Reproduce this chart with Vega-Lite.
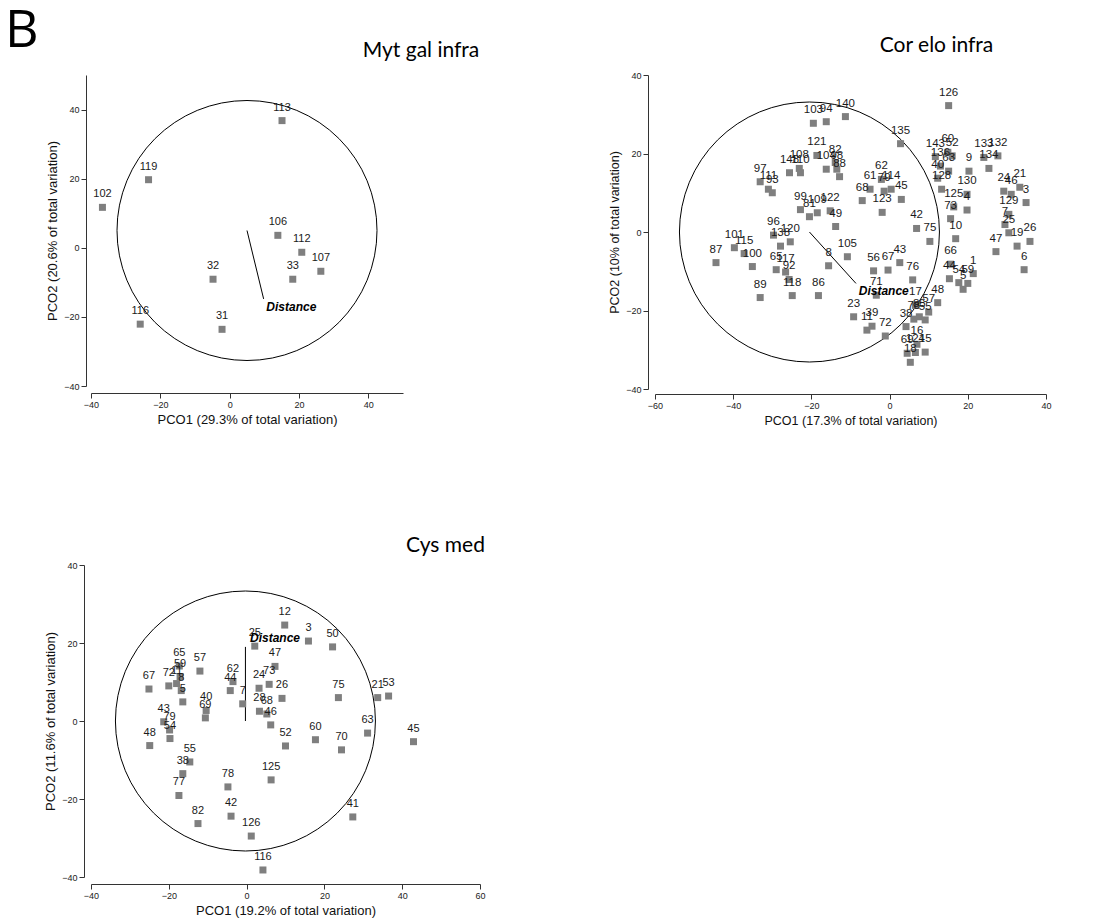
{
  "$schema": "https://vega.github.io/schema/vega-lite/v6.json",
  "background": "white",
  "padding": {"left": 5, "top": 5, "right": 5, "bottom": 5},
  "title": {"text": "B", "anchor": "start", "frame": "group", "font": "Open Sans", "fontSize": 52, "fontWeight": "normal", "color": "black", "dx": -86, "offset": -23},
  "columns": 2,
  "spacing": {"row": 176, "column": 173},
  "bounds": "flush",
  "align": "all",
  "datasets": {
    "myt_pts": [
      {"id": "113", "x": 15.1, "y": 36.8},
      {"id": "119", "x": -23.4, "y": 19.7},
      {"id": "102", "x": -36.7, "y": 11.7},
      {"id": "106", "x": 13.9, "y": 3.6},
      {"id": "112", "x": 20.8, "y": -1.3},
      {"id": "107", "x": 26.3, "y": -6.8},
      {"id": "33", "x": 18.2, "y": -9.1},
      {"id": "32", "x": -4.8, "y": -9.1},
      {"id": "31", "x": -2.2, "y": -23.6},
      {"id": "116", "x": -25.8, "y": -22.1}
    ],
    "myt_circle": [{"x": 5, "y": 5}],
    "myt_vec": [{"x": 5, "y": 5, "x2": 9.8, "y2": -14.8}],
    "myt_lab": [{"x": 17.8, "y": -17.1, "label": "Distance"}],
    "cor_pts": [
      {"id": "140", "x": -11.3, "y": 29.4},
      {"id": "103", "x": -19.5, "y": 27.7},
      {"id": "94", "x": -16.2, "y": 28.1},
      {"id": "121", "x": -18.6, "y": 19.5},
      {"id": "82", "x": -13.9, "y": 17.7},
      {"id": "104", "x": -16.2, "y": 16.0},
      {"id": "98", "x": -13.5, "y": 16.0},
      {"id": "88", "x": -12.8, "y": 14.1},
      {"id": "148", "x": -25.6, "y": 15.1},
      {"id": "108", "x": -23.1, "y": 16.2},
      {"id": "110", "x": -22.8, "y": 15.1},
      {"id": "97", "x": -33.1, "y": 12.8},
      {"id": "111", "x": -31.0, "y": 10.9},
      {"id": "93", "x": -30.0, "y": 10.0},
      {"id": "99", "x": -22.8, "y": 5.7},
      {"id": "81", "x": -20.5, "y": 3.9},
      {"id": "109", "x": -18.5, "y": 4.9},
      {"id": "122", "x": -15.2, "y": 5.4},
      {"id": "49", "x": -13.8, "y": 1.4},
      {"id": "96", "x": -29.7, "y": -0.8},
      {"id": "138", "x": -27.9, "y": -3.6},
      {"id": "120", "x": -25.4, "y": -2.5},
      {"id": "101", "x": -39.7, "y": -4.0},
      {"id": "115", "x": -37.2, "y": -5.5},
      {"id": "87", "x": -44.4, "y": -7.8},
      {"id": "100", "x": -35.1, "y": -8.8},
      {"id": "65", "x": -29.0, "y": -9.6},
      {"id": "117", "x": -26.6, "y": -10.2},
      {"id": "92", "x": -25.7, "y": -12.1},
      {"id": "118", "x": -24.9, "y": -16.2},
      {"id": "89", "x": -33.1, "y": -16.7},
      {"id": "86", "x": -18.2, "y": -16.2},
      {"id": "8", "x": -15.6, "y": -8.6},
      {"id": "105", "x": -10.8, "y": -6.3},
      {"id": "23", "x": -9.2, "y": -21.6},
      {"id": "11", "x": -5.8, "y": -25.0},
      {"id": "39", "x": -4.5, "y": -24.0},
      {"id": "72", "x": -1.1, "y": -26.5},
      {"id": "71", "x": -3.4, "y": -16.1},
      {"id": "56", "x": -4.1, "y": -9.9},
      {"id": "67", "x": -0.4, "y": -9.7},
      {"id": "43", "x": 2.6, "y": -7.8},
      {"id": "76", "x": 5.9, "y": -12.2},
      {"id": "126", "x": 15.1, "y": 32.2},
      {"id": "135", "x": 2.8, "y": 22.5},
      {"id": "62", "x": -2.1, "y": 13.4},
      {"id": "61", "x": -5.0, "y": 10.9},
      {"id": "79", "x": -1.4, "y": 10.4},
      {"id": "114", "x": 0.4, "y": 10.9},
      {"id": "68", "x": -7.0, "y": 8.0},
      {"id": "45", "x": 3.0, "y": 8.3},
      {"id": "123", "x": -1.9, "y": 5.0},
      {"id": "42", "x": 6.9, "y": 0.9},
      {"id": "75", "x": 10.3, "y": -2.4},
      {"id": "143", "x": 11.7, "y": 19.2},
      {"id": "60", "x": 14.9, "y": 20.3},
      {"id": "52", "x": 16.0, "y": 19.4},
      {"id": "136", "x": 13.0, "y": 16.8},
      {"id": "63", "x": 15.1, "y": 15.5},
      {"id": "40", "x": 12.3, "y": 13.7},
      {"id": "128", "x": 13.3, "y": 10.9},
      {"id": "9", "x": 20.3, "y": 15.5},
      {"id": "130", "x": 19.8, "y": 9.6},
      {"id": "125", "x": 16.4, "y": 6.4},
      {"id": "4", "x": 19.8, "y": 5.6},
      {"id": "73", "x": 15.6, "y": 3.4},
      {"id": "10", "x": 16.9, "y": -1.7},
      {"id": "133", "x": 24.1, "y": 19.0},
      {"id": "132", "x": 27.7, "y": 19.4},
      {"id": "134", "x": 25.4, "y": 16.2},
      {"id": "24", "x": 29.2, "y": 10.4},
      {"id": "46", "x": 31.1, "y": 9.6},
      {"id": "21", "x": 33.3, "y": 11.4},
      {"id": "3", "x": 34.9, "y": 7.5},
      {"id": "129", "x": 30.5, "y": 4.5},
      {"id": "7", "x": 29.5, "y": 1.9},
      {"id": "25", "x": 30.5, "y": -0.2},
      {"id": "19", "x": 32.6, "y": -3.6},
      {"id": "26", "x": 35.9, "y": -2.4},
      {"id": "47", "x": 27.2, "y": -5.0},
      {"id": "6", "x": 34.4, "y": -9.6},
      {"id": "66", "x": 15.6, "y": -8.2},
      {"id": "44", "x": 15.3, "y": -11.9},
      {"id": "54", "x": 17.7, "y": -12.9},
      {"id": "59", "x": 20.0, "y": -13.1},
      {"id": "5", "x": 18.8, "y": -14.6},
      {"id": "1", "x": 21.4, "y": -10.6},
      {"id": "48", "x": 12.3, "y": -18.0},
      {"id": "17", "x": 6.6, "y": -18.7},
      {"id": "57", "x": 10.0, "y": -20.4},
      {"id": "78", "x": 6.2, "y": -22.2},
      {"id": "85", "x": 7.6, "y": -21.6},
      {"id": "55", "x": 9.1, "y": -22.4},
      {"id": "38", "x": 4.2, "y": -24.1},
      {"id": "16", "x": 7.0, "y": -28.6},
      {"id": "69", "x": 4.5, "y": -30.9},
      {"id": "124", "x": 6.6, "y": -30.7},
      {"id": "15", "x": 9.1, "y": -30.6},
      {"id": "18", "x": 5.3, "y": -33.2}
    ],
    "cor_circle": [{"x": -20.5, "y": 0}],
    "cor_vec": [{"x": -20.5, "y": 0, "x2": -8.6, "y2": -13.1}],
    "cor_lab": [{"x": -1.5, "y": -15.1, "label": "Distance"}],
    "cys_pts": [
      {"id": "12", "x": 9.8, "y": 24.6},
      {"id": "3", "x": 15.9, "y": 20.5},
      {"id": "50", "x": 22.1, "y": 19.0},
      {"id": "25", "x": 2.1, "y": 19.2},
      {"id": "47", "x": 7.3, "y": 14.0},
      {"id": "73", "x": 5.8, "y": 9.4},
      {"id": "24", "x": 3.2, "y": 8.4},
      {"id": "26", "x": 9.1, "y": 5.8},
      {"id": "28", "x": 3.3, "y": 2.5},
      {"id": "68", "x": 5.2, "y": 1.8},
      {"id": "46", "x": 6.2, "y": -1.0},
      {"id": "52", "x": 10.0, "y": -6.4},
      {"id": "75", "x": 23.6, "y": 6.0},
      {"id": "21", "x": 33.7, "y": 6.0},
      {"id": "53", "x": 36.5, "y": 6.4},
      {"id": "63", "x": 31.1, "y": -3.1},
      {"id": "45", "x": 42.9, "y": -5.3},
      {"id": "60", "x": 17.7, "y": -4.8},
      {"id": "70", "x": 24.4, "y": -7.4},
      {"id": "125", "x": 6.3, "y": -15.1},
      {"id": "41", "x": 27.3, "y": -24.6},
      {"id": "126", "x": 1.2, "y": -29.5},
      {"id": "116", "x": 4.2, "y": -38.2},
      {"id": "42", "x": -4.0, "y": -24.4},
      {"id": "82", "x": -12.5, "y": -26.3},
      {"id": "78", "x": -4.8, "y": -16.9},
      {"id": "77", "x": -17.4, "y": -19.1},
      {"id": "38", "x": -16.4, "y": -13.5},
      {"id": "55", "x": -14.6, "y": -10.5},
      {"id": "48", "x": -24.9, "y": -6.3},
      {"id": "43", "x": -21.3, "y": -0.2},
      {"id": "79", "x": -19.8, "y": -2.3},
      {"id": "54", "x": -19.7, "y": -4.5},
      {"id": "67", "x": -25.1, "y": 8.2},
      {"id": "65", "x": -17.3, "y": 14.1},
      {"id": "59", "x": -17.1, "y": 11.4},
      {"id": "72", "x": -20.0, "y": 9.0},
      {"id": "11", "x": -18.0, "y": 9.6},
      {"id": "8", "x": -16.8, "y": 7.8},
      {"id": "5", "x": -16.4, "y": 4.9},
      {"id": "57", "x": -12.0, "y": 12.8},
      {"id": "40", "x": -10.4, "y": 2.7},
      {"id": "69", "x": -10.6, "y": 0.8},
      {"id": "62", "x": -3.5, "y": 10.1},
      {"id": "44", "x": -4.2, "y": 7.8},
      {"id": "7", "x": -1.0, "y": 4.4}
    ],
    "cys_circle": [{"x": -0.3, "y": 0}],
    "cys_vec": [{"x": -0.3, "y": 0, "x2": -0.3, "y2": 19.0}],
    "cys_lab": [{"x": 7.3, "y": 21.4, "label": "Distance"}]
  },
  "concat": [
    {
      "width": 312, "height": 311,
      "title": {"text": "Myt gal infra", "anchor": "middle", "frame": "group", "dx": 174, "offset": -3, "baseline": "alphabetic"},
      "encoding": {
        "x": {"field": "x", "type": "quantitative", "scale": {"domain": [-40, 50], "nice": false, "zero": false}, "axis": {"values": [-40, -20, 0, 20, 40], "title": "PCO1 (29.3% of total variation)", "offset": 7}},
        "y": {"field": "y", "type": "quantitative", "scale": {"domain": [-40, 50], "nice": false, "zero": false}, "axis": {"values": [-40, -20, 0, 20, 40], "title": "PCO2 (20.6% of total variation)", "offset": 5}}
      },
      "layer": [
        {"data": {"name": "myt_circle"}, "mark": {"type": "point", "shape": "circle", "size": 67600, "filled": false, "stroke": "black", "strokeWidth": 1, "opacity": 1}},
        {"data": {"name": "myt_vec"}, "mark": {"type": "rule", "color": "black", "strokeWidth": 1}, "encoding": {"x2": {"field": "x2"}, "y2": {"field": "y2"}}},
        {"data": {"name": "myt_pts"}, "mark": {"type": "point", "shape": "square", "size": 49, "filled": true, "color": "#7f7f7f", "opacity": 1}},
        {"data": {"name": "myt_pts"}, "mark": {"type": "text", "dy": -13, "fontSize": 11, "font": "Liberation Sans", "color": "#1a1a1a"}, "encoding": {"text": {"field": "id"}}},
        {"data": {"name": "myt_lab"}, "mark": {"type": "text", "fontSize": 12, "font": "Liberation Sans", "fontWeight": "bold", "fontStyle": "italic", "color": "black"}, "encoding": {"text": {"field": "label"}}}
      ]
    },
    {
      "width": 391, "height": 314,
      "title": {"text": "Cor elo infra", "anchor": "middle", "frame": "group", "dx": 86, "offset": -2, "baseline": "alphabetic"},
      "encoding": {
        "x": {"field": "x", "type": "quantitative", "scale": {"domain": [-60, 40], "nice": false, "zero": false}, "axis": {"values": [-60, -40, -20, 0, 20, 40], "title": "PCO1 (17.3% of total variation)", "offset": 5, "titleFontSize": 12.5}},
        "y": {"field": "y", "type": "quantitative", "scale": {"domain": [-40, 40], "nice": false, "zero": false}, "axis": {"values": [-40, -20, 0, 20, 40], "title": "PCO2 (10% of total variation)", "offset": 7, "titleFontSize": 12.5}}
      },
      "layer": [
        {"data": {"name": "cor_circle"}, "mark": {"type": "point", "shape": "circle", "size": 67600, "filled": false, "stroke": "black", "strokeWidth": 1, "opacity": 1}},
        {"data": {"name": "cor_vec"}, "mark": {"type": "rule", "color": "black", "strokeWidth": 1}, "encoding": {"x2": {"field": "x2"}, "y2": {"field": "y2"}}},
        {"data": {"name": "cor_pts"}, "mark": {"type": "point", "shape": "square", "size": 49, "filled": true, "color": "#7f7f7f", "opacity": 1}},
        {"data": {"name": "cor_pts"}, "mark": {"type": "text", "dy": -13, "fontSize": 11.5, "font": "Liberation Sans", "color": "#1a1a1a"}, "encoding": {"text": {"field": "id"}}},
        {"data": {"name": "cor_lab"}, "mark": {"type": "text", "fontSize": 12, "font": "Liberation Sans", "fontWeight": "bold", "fontStyle": "italic", "color": "black"}, "encoding": {"text": {"field": "label"}}}
      ]
    },
    {
      "width": 389, "height": 312,
      "title": {"text": "Cys med", "anchor": "middle", "frame": "group", "dx": 160, "offset": -12, "baseline": "alphabetic"},
      "encoding": {
        "x": {"field": "x", "type": "quantitative", "scale": {"domain": [-40, 60], "nice": false, "zero": false}, "axis": {"values": [-40, -20, 0, 20, 40, 60], "title": "PCO1 (19.2% of total variation)", "offset": 7}},
        "y": {"field": "y", "type": "quantitative", "scale": {"domain": [-40, 40], "nice": false, "zero": false}, "axis": {"values": [-40, -20, 0, 20, 40], "title": "PCO2 (11.6% of total variation)", "offset": 7}}
      },
      "layer": [
        {"data": {"name": "cys_circle"}, "mark": {"type": "point", "shape": "circle", "size": 67600, "filled": false, "stroke": "black", "strokeWidth": 1, "opacity": 1}},
        {"data": {"name": "cys_vec"}, "mark": {"type": "rule", "color": "black", "strokeWidth": 1}, "encoding": {"x2": {"field": "x2"}, "y2": {"field": "y2"}}},
        {"data": {"name": "cys_pts"}, "mark": {"type": "point", "shape": "square", "size": 49, "filled": true, "color": "#7f7f7f", "opacity": 1}},
        {"data": {"name": "cys_pts"}, "mark": {"type": "text", "dy": -13, "fontSize": 11, "font": "Liberation Sans", "color": "#1a1a1a"}, "encoding": {"text": {"field": "id"}}},
        {"data": {"name": "cys_lab"}, "mark": {"type": "text", "fontSize": 12, "font": "Liberation Sans", "fontWeight": "bold", "fontStyle": "italic", "color": "black"}, "encoding": {"text": {"field": "label"}}}
      ]
    }
  ],
  "config": {
    "view": {"stroke": null},
    "axis": {"grid": false, "domainColor": "#333", "tickColor": "#333", "labelColor": "#222", "labelFont": "Liberation Sans", "labelFontSize": 9, "titleFont": "Liberation Sans", "titleFontSize": 13, "titleFontWeight": "normal", "titleColor": "#111", "tickSize": 5, "labelPadding": 2, "titlePadding": 4, "labelFlush": false, "labelOverlap": false},
    "title": {"font": "Lato", "fontSize": 21, "fontWeight": "normal", "color": "black"}
  }
}
